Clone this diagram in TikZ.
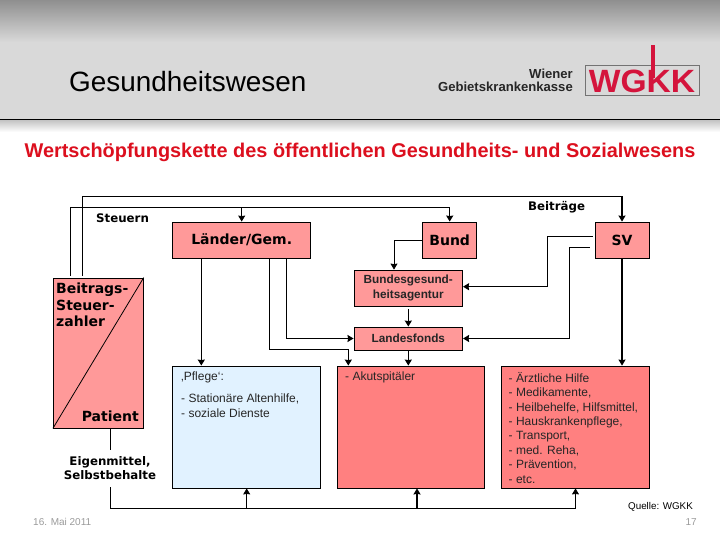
\documentclass[tikz,border=0pt]{standalone}
\usepackage{fontspec}
\setmainfont{Liberation Sans}
\newfontfamily\wgverdana{DejaVu Sans}
\usetikzlibrary{arrows.meta,positioning,calc}
\definecolor{wgrose}  {HTML}{FF9999}
\definecolor{wgcoral} {HTML}{FF8080}
\definecolor{wgice}   {HTML}{E1F2FF}
\definecolor{wgred}   {HTML}{DC0F1E}
\definecolor{wglogo}  {HTML}{D4143C}
\definecolor{wgbar}   {HTML}{D9D9D9}
\definecolor{wgtop}   {HTML}{8F8F8F}
\definecolor{wgdate}  {HTML}{9A9A9A}
\tikzset{
  wgbox/.style={draw=black, fill=wgrose, line width=0.8pt, inner sep=0pt},
  wgcare/.style={wgbox, fill=wgcoral},
  wgbold/.style={font=\wgverdana\bfseries\fontsize{14}{16.5}\selectfont, inner sep=0pt, align=left},
  wgnote/.style={font=\wgverdana\bfseries\fontsize{11.8}{14}\selectfont, inner sep=0pt, align=left},
  wgsmall/.style={font=\fontsize{12}{14.4}\selectfont, inner sep=0pt, align=left, text=black!85},
  wgagency/.style={font=\bfseries\fontsize{11.8}{15}\selectfont, align=center, text=black!85},
  wgline/.style={draw=black, line width=0.8pt},
  wgedge/.style={wgline, -{Stealth[length=6pt,width=7pt,inset=0.5pt]}},
  wgheavy/.style={wgedge, line width=1.3pt},
}
\begin{document}
\begin{tikzpicture}[x=1pt,y=-1pt]
  \useasboundingbox (0,0) rectangle (720,540);

  % header band
  \shade[top color=wgtop, bottom color=wgbar] (0,0) rectangle (720,42);
  \fill[wgbar] (0,42) rectangle (720,119);
  \shade[top color=wgbar!90!black, bottom color=white] (0,120) rectangle (720,132);
  \draw[black, line width=1.6pt] (0,119.5) -- (720,119.5);
  \node[font=\fontsize{27.9}{30}\selectfont, anchor=west, inner sep=0pt] (head) at (69,82) {Gesundheitswesen};
  \node[font=\bfseries\fontsize{13.1}{13}\selectfont, align=right, anchor=east, inner sep=0pt, text=black!85] (kasse) at (573,80.5) {Wiener\\Gebietskrankenkasse};
  \node[draw=black!55, fill=wgbar, minimum width=114pt, minimum height=30pt, inner sep=0pt] (logo) at (642,80) {};
  \node[font=\bfseries\fontsize{28}{28}\selectfont, text=wglogo, xscale=1.2, yscale=1.15, inner sep=0pt] (wgkk) at (642,81) {WGKK};
  \fill[wglogo] (650.5,45) rectangle (654.5,78);
  \node[font=\bfseries\fontsize{19.9}{20}\selectfont, text=wgred, inner sep=0pt] (title) at (360,152.5) {Wertschöpfungskette des öffentlichen Gesundheits- und Sozialwesens};

  % boxes
  \node[wgbox, minimum width=138pt, minimum height=36pt] (laender) at (241.7,240) {};
  \node[wgbox, minimum width=54pt, minimum height=36pt] (bund) at (449.7,240) {};
  \node[wgbox, minimum width=54pt, minimum height=36pt] (sv) at (622,240) {};
  \node[wgbox, minimum width=108.7pt, minimum height=36pt] (agentur) at (408.3,288) {};
  \node[wgbox, minimum width=108.7pt, minimum height=23pt] (fonds) at (408.3,338.5) {};
  \node[wgbox, minimum width=90pt, minimum height=150pt] (zahler) at (98.3,353) {};
  \node[wgbox, fill=wgice, minimum width=148pt, minimum height=122pt] (pflege) at (246.7,427) {};
  \node[wgcare, minimum width=147.7pt, minimum height=122pt] (akut) at (410.8,427) {};
  \node[wgcare, minimum width=147.7pt, minimum height=122pt] (arzt) at (575.5,427) {};
  \draw[wgline] (zahler.north east) -- (zahler.south west);

  % labels
  \node[wgbold] (llaender) at (laender.center) {Länder/Gem.};
  \node[wgbold] (lbund) at (bund.center) {Bund};
  \node[wgbold] (lsv) at (sv.center) {SV};
  \node[wgagency] (lagentur) at (agentur.center) {Bundesgesund-\\heitsagentur};
  \node[wgagency] (lfonds) at (fonds.center) {Landesfonds};
  \node[wgbold, anchor=north west] (lzahler) at (56,283) {Beitrags-\\Steuer-\\zahler};
  \node[wgbold, anchor=east] (lpatient) at (139,416.5) {Patient};
  \node[wgnote, anchor=west] (lsteuern) at (96,218.5) {Steuern};
  \node[wgnote, anchor=west] (lbeitrag) at (528,207.5) {Beiträge};
  \node[wgsmall, anchor=north west] (tpflege) at (181,372) {‚Pflege‘:\\[7pt]- Stationäre Altenhilfe,\\[0.6pt]- soziale Dienste};
  \node[wgsmall, anchor=north west] (takut) at (345,372) {- Akutspitäler};
  \node[wgsmall, anchor=north west] (tarzt) at (508.5,372) {- Ärztliche Hilfe\\- Medikamente,\\- Heilbehelfe, Hilfsmittel,\\- Hauskrankenpflege,\\- Transport,\\- med. Reha,\\- Prävention,\\- etc.};

  % Beitraege and Steuern
  \coordinate (topsv) at (sv.north |- 0,196.3);
  \coordinate (topbund) at (bund.north |- 0,207.3);
  \draw[wgline, shorten <=2pt] ([xshift=-16pt]zahler.north) |- (topsv);
  \draw[wgline, shorten <=2pt] ([xshift=-28pt]zahler.north) |- (topbund);
  \draw[wgheavy] (topsv) -- (sv.north);
  \draw[wgheavy] (topbund) -- (bund.north);
  \draw[wgedge] (laender.north |- topbund) -- (laender.north);

  % Laender
  \draw[wgheavy] ([xshift=-40.4pt]laender.south) -- ([xshift=-45.4pt]pflege.north);
  \coordinate (fondsleft) at ([xshift=45pt]laender.south |- fonds.west);
  \draw[wgline] ([xshift=45pt]laender.south) -- (fondsleft);
  \draw[wgheavy] (fondsleft) -- (fonds.west);
  \coordinate (akutleft) at ([xshift=-62.5pt]akut.north |- 0,349.3);
  \draw[wgline] ([xshift=28pt]laender.south) |- (akutleft);
  \draw[wgheavy] (akutleft) -- ([xshift=-62.5pt]akut.north);

  % Bund and SV
  \draw[wgedge] (bund.west) -| ([xshift=-14.3pt]agentur.north);
  \draw[wgheavy, shorten <=3pt] (agentur.south) -- (fonds.north);
  \draw[wgheavy] (fonds.south) -- (fonds.south |- akut.north);
  \coordinate (svupper) at (547.3,286.7);
  \coordinate (svlower) at (569.7,338.5);
  \draw[wgline, shorten <=2pt] ([yshift=3.7pt]sv.west) -| (svupper);
  \draw[wgline, shorten <=5pt] ([yshift=-7.3pt]sv.west) -| (svlower);
  \draw[wgheavy] (svupper) -- (agentur.east |- svupper);
  \draw[wgheavy] (svlower) -- (fonds.east);
  \draw[wgheavy] (sv.south) -- (sv.south |- arzt.north);

  % Patient
  \coordinate (busleft) at ([xshift=12pt]zahler.south |- 0,508.3);
  \draw[wgline] ([xshift=12pt]zahler.south) -- (busleft) -- (busleft -| arzt.south);
  \draw[wgedge] (busleft -| arzt.south) -- (arzt.south);
  \draw[wgedge] (busleft -| pflege.south) -- (pflege.south);
  \draw[wgheavy] ([xshift=6.2pt]busleft -| akut.south) -- ([xshift=6.2pt]akut.south);
  \node[wgnote, fill=white, align=center, minimum height=37pt] (leigen) at (110,468.5) {Eigenmittel,\\Selbstbehalte};

  % footer
  \node[font=\fontsize{9.8}{11}\selectfont, anchor=east, inner sep=0pt] (quelle) at (693,507) {Quelle: WGKK};
  \node[font=\fontsize{10}{11}\selectfont, anchor=west, text=wgdate, inner sep=0pt] (datum) at (33,522) {16. Mai 2011};
  \node[font=\fontsize{10}{11}\selectfont, anchor=east, text=wgdate, inner sep=0pt] (seite) at (697,522) {17};
\end{tikzpicture}
\end{document}
